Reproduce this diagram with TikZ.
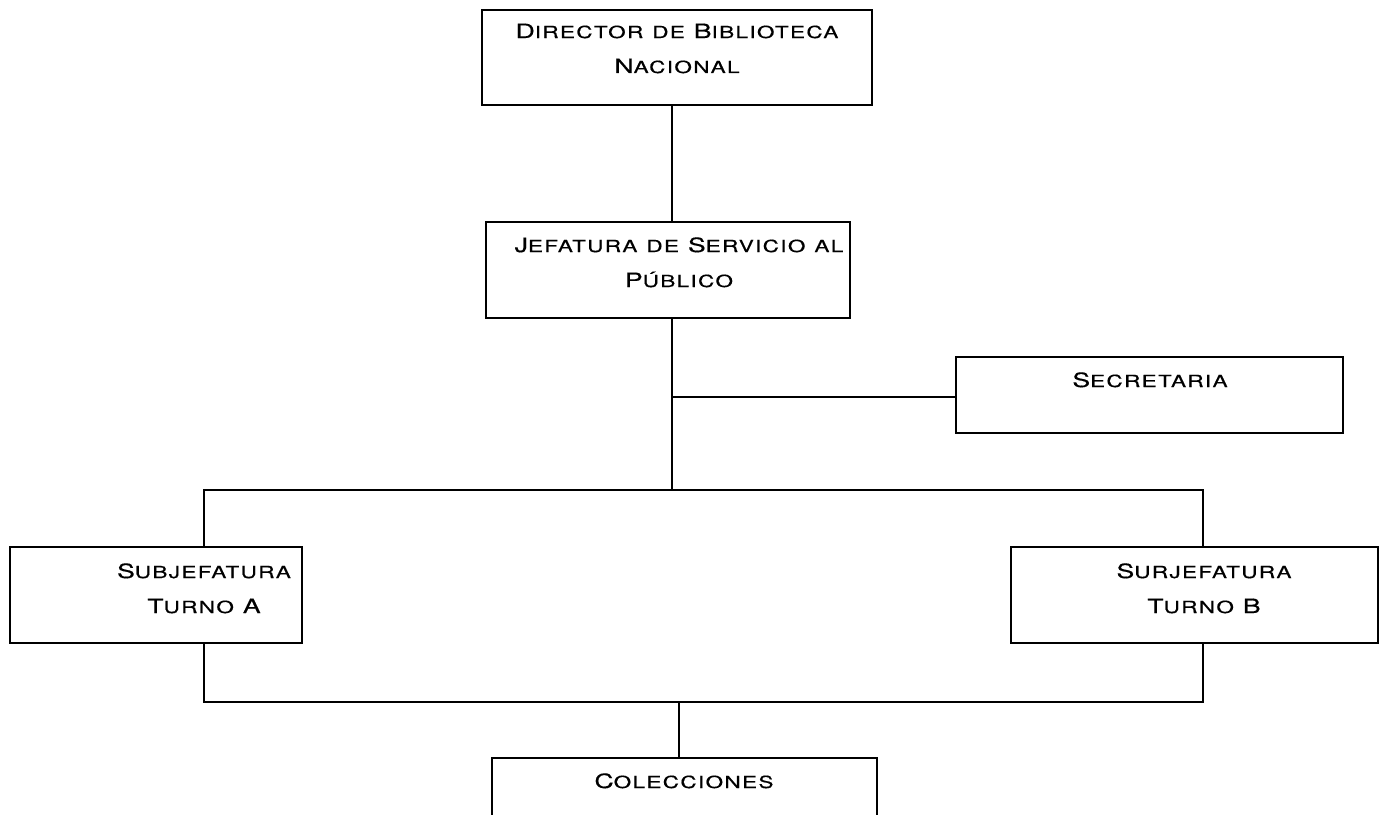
\documentclass[tikz,border=0pt]{standalone}
\usepackage{fontspec}
\setmainfont{TeX Gyre Heros}[FakeStretch=1.35, LetterSpace=8, FakeBold=0.5]
\usetikzlibrary{positioning}
\newcommand{\sm}[1]{{\fontsize{9.5}{19.9}\selectfont\MakeUppercase{#1}}}

\begin{document}
\begin{tikzpicture}[x=0.02cm, y=-0.02cm,
    every node/.style={inner sep=0pt},
    unitbox/.style={rectangle, draw, line width=1pt},
    unittext/.style={align=center, anchor=base,
        font=\fontsize{11.2}{19.9}\selectfont},
    link/.style={line width=1pt}
]
    \useasboundingbox (0,0) rectangle (1381,814);
    \clip (0,0) rectangle (1381,814);

    % boxes
    \node (director) [unitbox, minimum width=7.8cm, minimum height=1.9cm] at (677,57.5) {};
    \node (jefatura) [unitbox, minimum width=7.28cm, minimum height=1.92cm] at (668,270) {};
    \node (secretaria) [unitbox, minimum width=7.74cm, minimum height=1.52cm] at (1149.5,395) {};
    \node (turno_a) [unitbox, minimum width=5.84cm, minimum height=1.92cm] at (156,595) {};
    \node (turno_b) [unitbox, minimum width=7.34cm, minimum height=1.92cm] at (1194.5,595) {};
    \node (colecciones) [unitbox, minimum width=7.7cm, minimum height=1.92cm] at (684.5,806) {};

    % texts (anchored on the baseline of the last line)
    \node (director_txt) [unittext] at (677,73) {D\sm{irector} \sm{de} B\sm{iblioteca}\\N\sm{acional}};
    \node (jefatura_txt) [unittext] at (679,287) {J\sm{efatura} \sm{de} S\sm{ervicio} \sm{al}\\P\sm{úblico}};
    \node (secretaria_txt) [unittext] at (1150,387) {S\sm{ecretaria}};
    \node (turno_a_txt) [unittext] at (204,613) {S\sm{ubjefatura}\\T\sm{urno} A};
    \node (turno_b_txt) [unittext] at (1204,613) {S\sm{urjefatura}\\T\sm{urno} B};
    \node (colecciones_txt) [unittext] at (684,788) {C\sm{olecciones}};

    % connectors
    \coordinate (trunk_top) at (672,490);
    \coordinate (secretaria_tap) at (672,397);
    \coordinate (bus_left) at (204,490);
    \coordinate (bus_right) at (1203,490);
    \coordinate (low_left) at (204,702);
    \coordinate (low_right) at (1203,702);
    \coordinate (low_mid) at (679,702);

    \draw[link] (director.south -| secretaria_tap) -- (jefatura.north -| secretaria_tap);
    \draw[link] (jefatura.south -| trunk_top) -- (trunk_top);
    \draw[link] (secretaria_tap) -- (secretaria.west |- secretaria_tap);
    \draw[link] (turno_a.north -| bus_left) -- (bus_left) -- (bus_right) -- (turno_b.north -| bus_right);
    \draw[link] (turno_a.south -| low_left) -- (low_left) -- (low_right) -- (turno_b.south -| low_right);
    \draw[link] (low_mid) -- (colecciones.north -| low_mid);
\end{tikzpicture}
\end{document}
